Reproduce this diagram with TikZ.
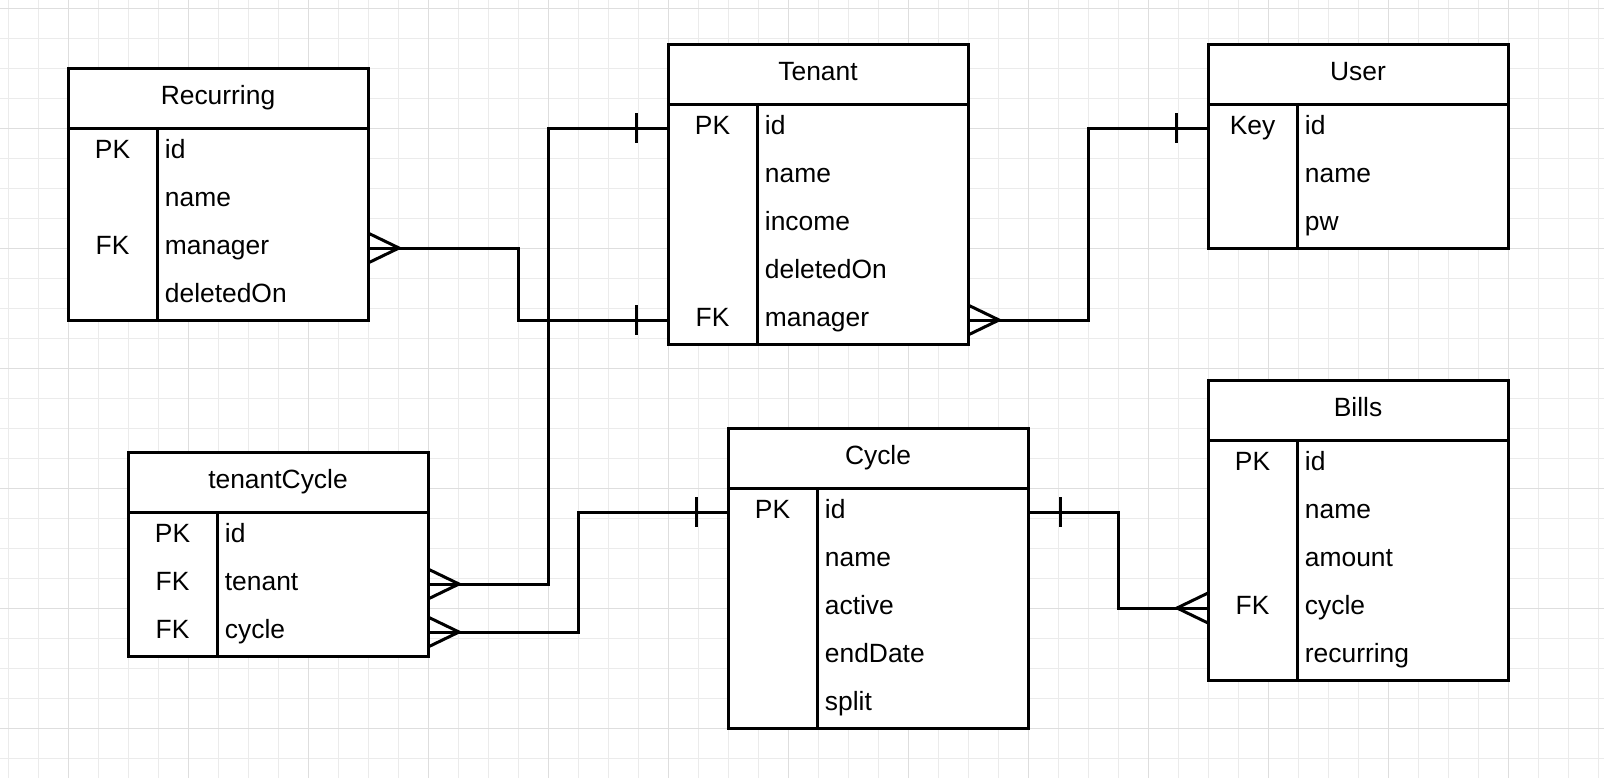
\documentclass[tikz,border=0pt]{standalone}
\usepackage{fontspec}
\setmainfont{Liberation Sans}
\usetikzlibrary{calc}
\tikzset{
  minorgrid/.style={draw=black!8, line width=0.5pt},
  majorgrid/.style={draw=black!13, line width=0.5pt},
  hdr/.style={draw, fill=white, line width=1.5pt, minimum width=150pt, minimum height=30pt, inner sep=0pt, outer sep=0pt, anchor=north west},
  bodybox/.style={draw, fill=white, line width=1.5pt, minimum width=150pt, inner sep=0pt, outer sep=0pt, anchor=north west},
  rowcell/.style={minimum width=150pt, minimum height=24pt, inner sep=0pt, outer sep=0pt, anchor=north west},
  titletxt/.style={anchor=base, inner sep=0pt},
  keytxt/.style={anchor=base, inner sep=0pt},
  fldtxt/.style={anchor=base west, inner sep=0pt},
  conn/.style={line width=1.5pt, line cap=butt, line join=miter},
}
\newcommand\ertable[6]{%
  \node[hdr] (#1) at (#2,#3) {};
  \node[titletxt] (#1-title) at ($(#1.center)+(0,6.5)$) {#4};
  \node[bodybox, minimum height=#5*24pt] (#1-body) at (#2,#3+60) {};
  \draw[line width=1.5pt] (#2+89,#3+60) -- (#2+89,#3+60+48*#5);
  \foreach[count=\i] \k/\f in {#6}{
    \node[rowcell] (#1-\i) at (#2,#3+12+48*\i) {};
    \node[keytxt] (#1-k\i) at ($(#1-\i.west)+(44.5,6.5)$) {\k};
    \node[fldtxt] (#1-f\i) at ($(#1-\i.west)+(96.5,6.5)$) {\f};
  }%
}
\newcommand\crowfoot[2]{\draw[conn] ($(#1)+(0,-15)$) -- ($(#1)+(#2*31,0)$) -- ($(#1)+(0,15)$);}
\newcommand\onebar[2]{\draw[conn] ($(#1)+(#2*32,-15)$) -- ($(#1)+(#2*32,15)$);}
\begin{document}
\begin{tikzpicture}[x=0.5pt,y=-0.5pt,font=\fontsize{13.2}{15}\selectfont]
\fill[white] (0,0) rectangle (1604,778);
\useasboundingbox (0,0) rectangle (1604,778);
% grid
\foreach \x in {8.5,38.5,...,1600} \draw[minorgrid] (\x,0) -- (\x,778);
\foreach \y in {8.5,38.5,...,778} \draw[minorgrid] (0,\y) -- (1604,\y);
\foreach \x in {68.5,188.5,...,1600} \draw[majorgrid] (\x,0) -- (\x,778);
\foreach \y in {8.5,128.5,...,778} \draw[majorgrid] (0,\y) -- (1604,\y);
% tables
\ertable{rec}{68}{68}{Recurring}{4}{PK/id,{}/name,FK/manager,{}/deletedOn}
\ertable{tenant}{668}{44}{Tenant}{5}{PK/id,{}/name,{}/income,{}/deletedOn,FK/manager}
\ertable{user}{1208}{44}{User}{3}{Key/id,{}/name,{}/pw}
\ertable{tc}{128}{452}{tenantCycle}{3}{PK/id,FK/tenant,FK/cycle}
\ertable{cycle}{728}{428}{Cycle}{5}{PK/id,{}/name,{}/active,{}/endDate,{}/split}
\ertable{bills}{1208}{380}{Bills}{5}{PK/id,{}/name,{}/amount,FK/cycle,{}/recurring}
% connectors
\draw[conn] (rec-3.east) -- ++(150,0) |- (tenant-5.west);
\crowfoot{rec-3.east}{1}\onebar{tenant-5.west}{-1}
\draw[conn] (tc-2.east) -- ++(120,0) |- (tenant-1.west);
\crowfoot{tc-2.east}{1}\onebar{tenant-1.west}{-1}
\draw[conn] (tc-3.east) -- ++(150,0) |- (cycle-1.west);
\crowfoot{tc-3.east}{1}\onebar{cycle-1.west}{-1}
\draw[conn] (tenant-5.east) -- ++(120,0) |- (user-1.west);
\crowfoot{tenant-5.east}{1}\onebar{user-1.west}{-1}
\draw[conn] (cycle-1.east) -- ++(90,0) |- (bills-4.west);
\onebar{cycle-1.east}{1}\crowfoot{bills-4.west}{-1}
\end{tikzpicture}
\end{document}
